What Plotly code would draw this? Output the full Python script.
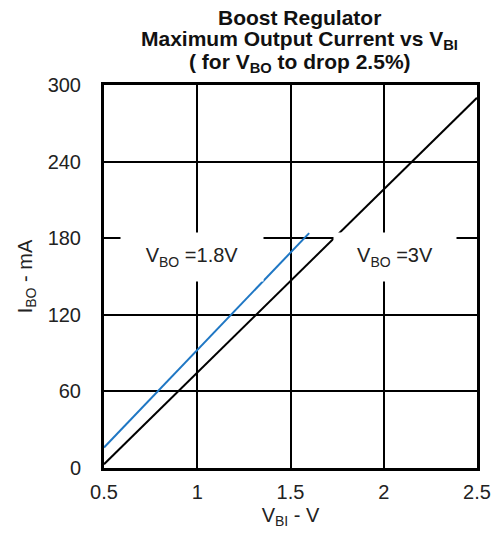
import plotly.graph_objects as go

# Data
v_bi_18 = [0.5, 1.6]
i_bo_18 = [16, 184]
v_bi_3 = [0.5, 2.5]
i_bo_3 = [3, 290]

x_ticks = [0.5, 1, 1.5, 2, 2.5]
x_tick_labels = ["0.5", "1", "1.5", "2", "2.5"]
y_ticks = [0, 60, 120, 180, 240, 300]
y_tick_labels = ["0", "60", "120", "180", "240", "300"]

title_lines = [
    "<b>Boost Regulator</b>",
    "<b>Maximum Output Current vs V<sub>BI</sub></b>",
    "<b>( for V<sub>BO</sub> to drop 2.5%)</b>",
]

FONT = "Liberation Sans, Arial, sans-serif"
FS = 20
TFS = 21

fig = go.Figure()
fig.add_trace(go.Scatter(x=v_bi_3, y=i_bo_3, mode="lines",
                         line=dict(color="#000000", width=2), showlegend=False))
fig.add_trace(go.Scatter(x=v_bi_18, y=i_bo_18, mode="lines",
                         line=dict(color="#1f77c4", width=2), showlegend=False))

T, PH = 85, 383  # plot top margin / plot height in px

fig.update_layout(
    width=503, height=535,
    margin=dict(l=104, r=16, t=T, b=67),
    paper_bgcolor="white", plot_bgcolor="white",
    font=dict(family=FONT, size=FS, color="#222222"),
    xaxis=dict(
        range=[0.5, 2.5], tickvals=x_ticks, ticktext=x_tick_labels,
        showgrid=True, gridcolor="#000000", gridwidth=1.8,
        showline=True, linecolor="#000000", linewidth=3, mirror=True,
        zeroline=False, ticks="", ticklen=0, ticklabelstandoff=4,
        title=dict(text="V<sub>BI</sub> - V", standoff=6,
                   font=dict(family=FONT, size=FS, color="#222222")),
        tickfont=dict(family=FONT, size=FS, color="#222222"),
    ),
    yaxis=dict(
        range=[0, 300], tickvals=y_ticks, ticktext=y_tick_labels,
        showgrid=True, gridcolor="#000000", gridwidth=1.8,
        showline=True, linecolor="#000000", linewidth=3, mirror=True,
        zeroline=False, ticks="", ticklen=0, ticklabelstandoff=16,
        title=dict(text="I<sub>BO</sub> - mA", standoff=10,
                   font=dict(family=FONT, size=FS, color="#222222")),
        tickfont=dict(family=FONT, size=FS, color="#222222"),
    ),
)

for i, (txt, py) in enumerate(zip(title_lines, [17, 40, 63])):
    fig.add_annotation(x=0.525, xref="paper", y=1 + (T - py) / PH, yref="paper",
                       xanchor="center", yanchor="middle", text=txt,
                       showarrow=False,
                       font=dict(family=FONT, size=TFS, color="#111111"))

fig.add_annotation(x=0.97, y=165, xref="x", yref="y",
                   text="V<sub>BO</sub> =1.8V", showarrow=False,
                   bgcolor="white", width=142, height=48, borderpad=0,
                   font=dict(family=FONT, size=FS, color="#222222"))
fig.add_annotation(x=2.06, y=165, xref="x", yref="y",
                   text="V<sub>BO</sub> =3V", showarrow=False,
                   bgcolor="white", width=122, height=48, borderpad=0,
                   font=dict(family=FONT, size=FS, color="#222222"))

fig.write_html("out.html")
